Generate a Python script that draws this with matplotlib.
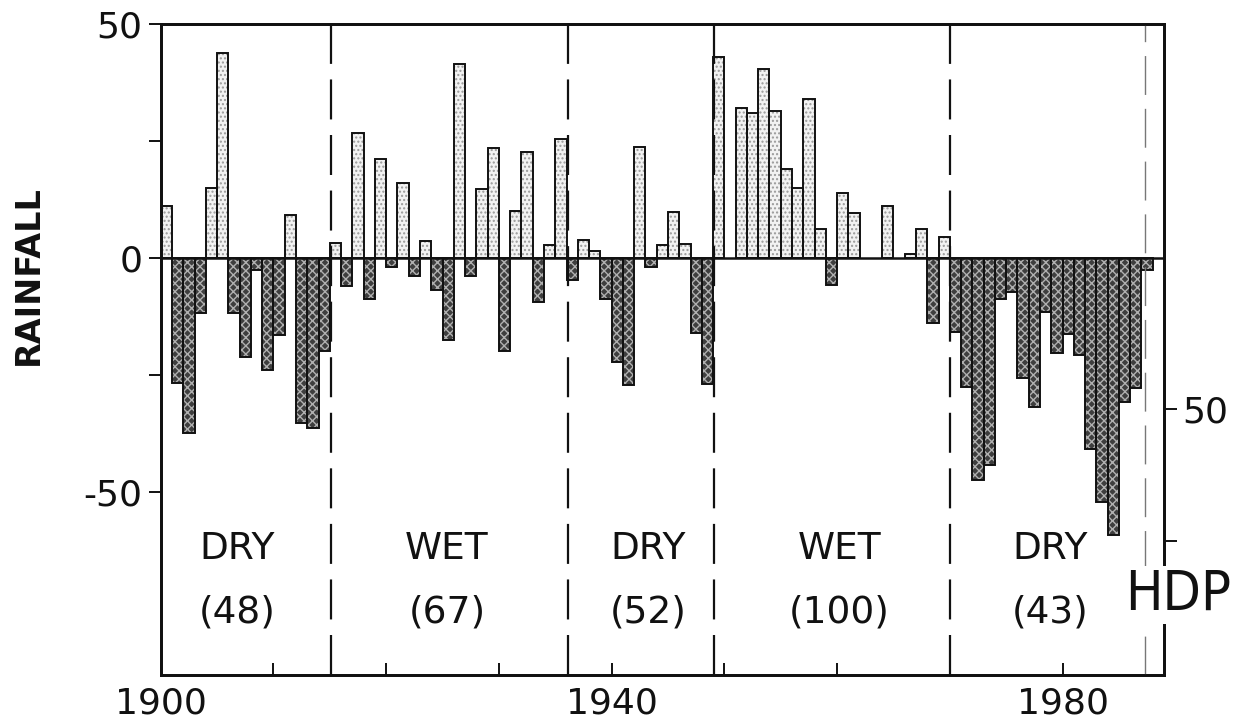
import matplotlib
matplotlib.use("Agg")
import matplotlib.pyplot as plt
import numpy as np

years = list(range(1900, 1988))
rainfall = [
    11.0, -26.8, -37.4, -11.7, 15.0, 43.9, -11.7, -21.3, -2.6, -23.9,
    -16.5, 9.1, -35.4, -36.3, -19.9, 3.1, -6.0, 26.6, -8.9, 21.2,
    -1.9, 15.9, -3.9, 3.6, -6.9, -17.6, 41.5, -3.9, 14.8, 23.5,
    -19.9, 10.0, 22.6, -9.4, 2.7, 25.5, -4.8, 3.9, 1.5, -8.7,
    -22.2, -27.2, 23.6, -1.9, 2.7, 9.8, 2.9, -16.0, -27.0, 43.0,
    0.0, 32.1, 30.9, 40.3, 31.4, 19.1, 15.0, 33.9, 6.1, -5.8,
    13.9, 9.5, 0.0, 0.0, 11.1, 0.0, 0.8, 6.2, -13.9, 4.5,
    -15.8, -27.6, -47.5, -44.3, -8.9, -7.3, -25.6, -31.8, -11.5, -20.4,
    -16.2, -20.8, -40.9, -52.3, -59.2, -30.8, -27.9, -2.6,
]
period_bounds = [1915.1, 1936.1, 1949.1, 1970.0]
hdp_year = 1987.3
period_names = ["DRY", "WET", "DRY", "WET", "DRY"]
period_values = ["(48)", "(67)", "(52)", "(100)", "(43)"]
period_centers = [1906.8, 1925.4, 1943.2, 1960.2, 1978.9]
x_ticks = list(range(1900, 1990, 10))
x_labels = ["1900", "", "", "", "1940", "", "", "", "1980"]
y_ticks = [50, 25, 0, -25, -50]
y_labels = ["50", "", "0", "", "-50"]
right_ticks = [-32.4, -60.5]
right_labels = ["50", ""]

W, H = 1247, 723
fig = plt.figure(figsize=(W / 100, H / 100), dpi=100)
ax = fig.add_axes([160.7 / W, 1 - 675 / H, (1164 - 160.7) / W, (675 - 24) / H])

yrs = np.array(years)
vals = np.array(rainfall)
pos = vals > 0
neg = vals < 0

# fills with stipple
ax.bar(yrs[pos], vals[pos], width=1.0, align="edge", color="#f2f2f2",
       hatch="....", edgecolor="#9a9a9a", linewidth=0, zorder=2)
ax.bar(yrs[neg], vals[neg], width=1.0, align="edge", color="#3e3e3e",
       hatch="xxxx", edgecolor="#b0b0b0", linewidth=0, zorder=2)
# outlines
nz = vals != 0
ax.bar(yrs[nz], vals[nz], width=1.0, align="edge", fill=False,
       edgecolor="#111111", linewidth=1.4, zorder=3)

ax.axhline(0, color="#111111", linewidth=1.8, zorder=4)

for b in period_bounds:
    ax.axvline(b, color="#111111", linewidth=1.6, dashes=(18, 7), zorder=5)
ax.axvline(hdp_year, color="#777777", linewidth=1.0, dashes=(28, 10), zorder=5)

for name, val, c in zip(period_names, period_values, period_centers):
    ax.text(c, -62.2, name, ha="center", va="center", fontsize=27, color="#111111")
    ax.text(c, -75.9, val, ha="center", va="center", fontsize=27, color="#111111")

ax.set_xlim(1900, 1989)
ax.set_ylim(-89.2, 50)

ax.set_xticks(x_ticks)
ax.set_xticklabels(x_labels)
ax.set_yticks(y_ticks)
ax.set_yticklabels(y_labels)
ax.tick_params(axis="x", direction="in", length=9, width=1.4, labelsize=26, pad=8, colors="#111111")
ax.tick_params(axis="y", direction="out", length=9, width=1.4, labelsize=26, pad=4, colors="#111111")
for s in ax.spines.values():
    s.set_linewidth(2.0)
    s.set_color("#111111")

ax2 = ax.twinx()
ax2.set_ylim(ax.get_ylim())
ax2.set_yticks(right_ticks)
ax2.set_yticklabels(right_labels)
ax2.tick_params(axis="y", direction="out", length=9, width=1.4, labelsize=26, pad=4, colors="#111111")
for s in ax2.spines.values():
    s.set_linewidth(2.0)
    s.set_color("#111111")

ax2.text(1990.3, -72.1, "HDP", ha="center", va="center", fontsize=40,
         fontstretch="condensed", color="#111111", zorder=10,
         bbox=dict(facecolor="white", edgecolor="none", pad=1))

fig.text(28 / W, 1 - 275 / H, "RAINFALL", rotation=90, ha="center", va="center",
         fontsize=24, fontweight="bold", color="#111111")

fig.savefig("out.png", dpi=100)
